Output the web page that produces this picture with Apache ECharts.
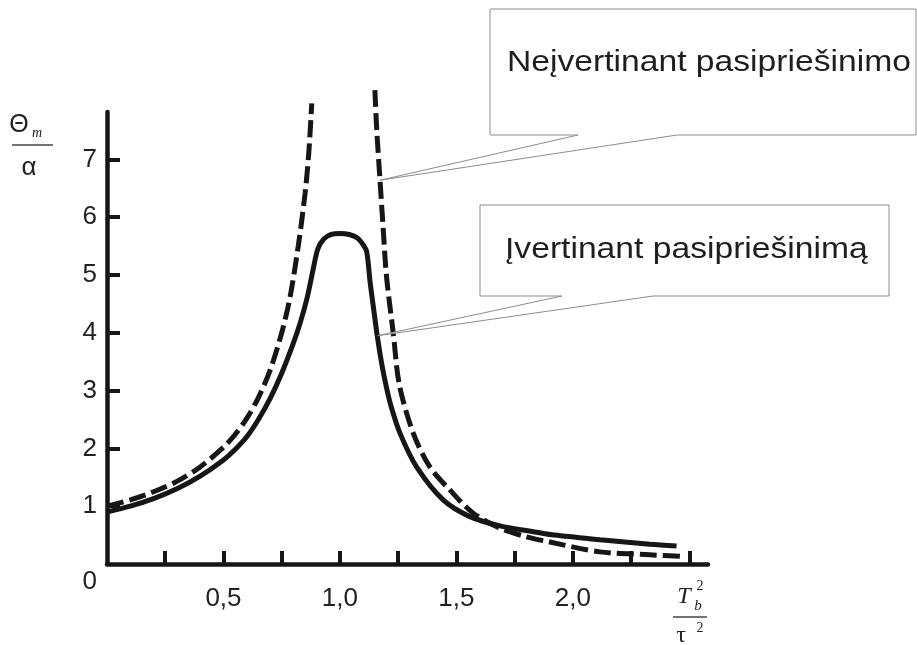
<!DOCTYPE html>
<html><head><meta charset="utf-8">
<script src="https://cdn.jsdelivr.net/npm/echarts@6/dist/echarts.min.js"></script>
<style>html,body{margin:0;padding:0;background:#fff}#c{width:917px;height:645px}</style>
</head><body><div id="c"></div>
<script>
// ---- data ----
const xTickValues = [0.25, 0.5, 0.75, 1.0, 1.25, 1.5, 1.75, 2.0, 2.25, 2.5];
const xLabelValues = [0.5, 1.0, 1.5, 2.0];
const yTickValues = [1, 2, 3, 4, 5, 6, 7];
const yLabelValues = [0, 1, 2, 3, 4, 5, 6, 7];

// "Įvertinant pasipriešinimą" (solid)
const solidX = [0, 0.1, 0.2, 0.3, 0.4, 0.5, 0.55, 0.60, 0.65, 0.70, 0.75, 0.80, 0.83, 0.86, 0.885, 0.905, 0.93, 0.96, 1.0, 1.04, 1.075, 1.10, 1.115, 1.13, 1.145, 1.16, 1.18, 1.20, 1.22, 1.258, 1.329, 1.443, 1.558, 1.687, 1.844, 1.92, 2.116, 2.33, 2.445];
const solidY = [0.90, 1.00, 1.13, 1.30, 1.52, 1.80, 1.98, 2.20, 2.50, 2.86, 3.30, 3.82, 4.18, 4.62, 5.10, 5.45, 5.62, 5.70, 5.72, 5.70, 5.64, 5.52, 5.40, 4.86, 4.40, 3.95, 3.45, 3.05, 2.72, 2.26, 1.68, 1.11, 0.82, 0.66, 0.55, 0.50, 0.42, 0.34, 0.31];

// "Neįvertinant pasipriešinimo" (dashed), two branches
const dashedLeftX = [0, 0.1, 0.2, 0.3, 0.4, 0.5, 0.55, 0.60, 0.65, 0.70, 0.75, 0.785, 0.821, 0.85, 0.866, 0.879];
const dashedLeftY = [1.0, 1.11, 1.25, 1.43, 1.68, 2.02, 2.24, 2.52, 2.88, 3.35, 4.00, 4.60, 5.50, 6.40, 7.10, 7.97];
const dashedRightX = [1.150, 1.158, 1.172, 1.186, 1.200, 1.229, 1.255, 1.315, 1.386, 1.472, 1.572, 1.687, 1.801, 1.901, 2.116, 2.33, 2.47];
const dashedRightY = [8.20, 7.51, 6.64, 5.78, 4.97, 3.99, 3.10, 2.26, 1.68, 1.28, 0.88, 0.62, 0.47, 0.38, 0.21, 0.16, 0.13];

const calloutTexts = ['Neįvertinant pasipriešinimo', 'Įvertinant pasipriešinimą'];

const zip = (xs, ys) => xs.map((x, i) => [x, ys[i]]);

const chart = echarts.init(document.getElementById('c'), null, {renderer: 'canvas'});
const ink = '#161616';
const labelFont = '"Liberation Sans", Arial, sans-serif';

chart.setOption({
  animation: false,
  backgroundColor: '#ffffff',
  grid: {left: 107, right: 209, top: 112, bottom: 81, containLabel: false},
  xAxis: {
    type: 'value', min: 0, max: 2.58,
    splitLine: {show: false},
    axisLine: {show: true, lineStyle: {color: ink, width: 4.5}},
    axisTick: {show: true, inside: true, length: 13, customValues: xTickValues, lineStyle: {color: ink, width: 4}},
    axisLabel: {
      customValues: xLabelValues, margin: 22, fontSize: 26, color: '#222', fontFamily: labelFont,
      formatter: v => v.toFixed(1).replace('.', ',')
    }
  },
  yAxis: {
    type: 'value', min: 0, max: 7.82,
    splitLine: {show: false},
    axisLine: {show: true, lineStyle: {color: ink, width: 4.5}},
    axisTick: {show: true, inside: true, length: 13, customValues: yTickValues, lineStyle: {color: ink, width: 4}},
    axisLabel: {
      customValues: yLabelValues, margin: 10, fontSize: 26, color: '#222', fontFamily: labelFont,
      formatter: v => v === 0 ? '{z|0}' : String(v),
      rich: {z: {fontSize: 26, color: '#222', fontFamily: labelFont, padding: [36, 0, 0, 0]}}
    }
  },
  series: [
    {type: 'line', data: zip(solidX, solidY), showSymbol: false, smooth: 0.3, clip: false,
     lineStyle: {color: ink, width: 5}, z: 3},
    {type: 'line', data: zip(dashedLeftX, dashedLeftY), showSymbol: false, smooth: 0.3, clip: false,
     lineStyle: {color: ink, width: 5, type: [17, 6]}, z: 2},
    {type: 'line', data: zip(dashedRightX, dashedRightY), showSymbol: false, smooth: 0.3, clip: false,
     lineStyle: {color: ink, width: 5, type: [17, 6]}, z: 2}
  ]
});

// callout tips anchored to curve points through the chart's own scales
const tip1 = chart.convertToPixel({gridIndex: 0}, [dashedRightX[2], dashedRightY[2]]);
const tip2 = chart.convertToPixel({gridIndex: 0}, [1.162, 3.95]);

const boxStroke = '#8c8c8c';
const serif = '"Liberation Serif", "DejaVu Serif", serif';
const sans = '"Liberation Sans", Arial, sans-serif';

chart.setOption({
  graphic: [
    {type: 'polygon', z: 10, shape: {points: [[490, 9], [916, 9], [916, 135], [677, 135], tip1, [578, 135], [490, 135]]},
     style: {fill: '#fff', stroke: boxStroke, lineWidth: 1}},
    {type: 'text', z: 11, x: 507, y: 63, scaleX: 1.16,
     style: {text: calloutTexts[0], font: '29px ' + sans, fill: '#1e1e1e', align: 'left', verticalAlign: 'middle'}},
    {type: 'polygon', z: 10, shape: {points: [[480, 205], [889, 205], [889, 296], [653, 296], tip2, [562, 296], [480, 296]]},
     style: {fill: '#fff', stroke: boxStroke, lineWidth: 1}},
    {type: 'text', z: 11, x: 505, y: 250, scaleX: 1.16,
     style: {text: calloutTexts[1], font: '29px ' + sans, fill: '#1e1e1e', align: 'left', verticalAlign: 'middle'}},

    // y axis name: Θm / α
    {type: 'text', z: 11, x: 19, y: 125, style: {text: 'Θ', font: '25px ' + sans, fill: '#222', align: 'center', verticalAlign: 'middle'}},
    {type: 'text', z: 11, x: 37, y: 133, style: {text: 'm', font: 'italic 14px ' + serif, fill: '#222', align: 'center', verticalAlign: 'middle'}},
    {type: 'line', z: 11, shape: {x1: 12, y1: 145, x2: 53, y2: 145}, style: {stroke: '#444', lineWidth: 1.5}},
    {type: 'text', z: 11, x: 29, y: 168, style: {text: 'α', font: '26px ' + sans, fill: '#222', align: 'center', verticalAlign: 'middle'}},

    // x axis name: Tb² / τ²
    {type: 'text', z: 11, x: 684, y: 597, style: {text: 'T', font: 'italic 24px ' + serif, fill: '#222', align: 'center', verticalAlign: 'middle'}},
    {type: 'text', z: 11, x: 700, y: 586, style: {text: '2', font: '14px ' + serif, fill: '#222', align: 'center', verticalAlign: 'middle'}},
    {type: 'text', z: 11, x: 698, y: 606, style: {text: 'b', font: 'italic 15px ' + serif, fill: '#222', align: 'center', verticalAlign: 'middle'}},
    {type: 'line', z: 11, shape: {x1: 673, y1: 617, x2: 707, y2: 617}, style: {stroke: '#444', lineWidth: 1.5}},
    {type: 'text', z: 11, x: 681, y: 636, style: {text: 'τ', font: '24px ' + serif, fill: '#222', align: 'center', verticalAlign: 'middle'}},
    {type: 'text', z: 11, x: 700, y: 628, style: {text: '2', font: '14px ' + serif, fill: '#222', align: 'center', verticalAlign: 'middle'}}
  ]
});
</script>
</body></html>
